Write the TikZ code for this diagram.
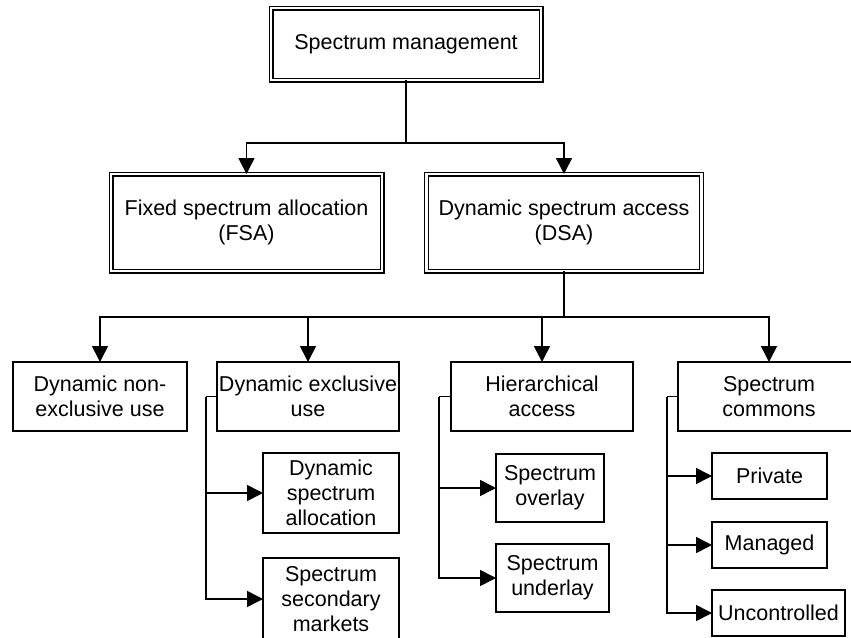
\documentclass[tikz,border=0pt]{standalone}
\usepackage{fontspec}
\setmainfont{Liberation Sans}
\usetikzlibrary{arrows.meta}
\begin{document}
\begin{tikzpicture}[x=1pt, y=-1pt, line width=1.6pt, line join=miter,
	font=\fontsize{21.5}{25}\selectfont, >={Triangle[length=16pt,width=16pt]},
	box/.style={draw, rectangle, align=center, inner sep=0pt, outer sep=0pt},
	dbox/.style={box, double, double distance=2.4pt, line width=1.3pt}]
	\useasboundingbox (0,0) rectangle (851,637);
	% upper levels
	\node[dbox, minimum width=270, minimum height=72] (sm) at (406,44) {Spectrum management};
	\node[dbox, minimum width=271, minimum height=97] (fsa) at (246.5,222.5) {Fixed spectrum allocation\\(FSA)};
	\node[dbox, minimum width=275, minimum height=97] (dsa) at (564,222.5) {Dynamic spectrum access\\(DSA)};
	% DSA models
	\node[box, minimum width=174, minimum height=69] (dnu) at (100,396.5) {Dynamic non-\\exclusive use};
	\node[box, minimum width=182, minimum height=69] (deu) at (308,396.5) {Dynamic exclusive\\use};
	\node[box, minimum width=182, minimum height=69] (ha) at (542,396.5) {Hierarchical\\access};
	\node[box, minimum width=182, minimum height=69] (sc) at (769,396.5) {Spectrum\\commons};
	% sub-models
	\node[box, minimum width=136, minimum height=80] (dspa) at (331,493) {Dynamic\\spectrum\\allocation};
	\node[box, minimum width=136, minimum height=82] (ssm) at (331,599) {Spectrum\\secondary\\markets};
	\node[box, minimum width=108, minimum height=68] (sov) at (550,488) {Spectrum\\overlay};
	\node[box, minimum width=113, minimum height=68] (sun) at (552.5,578) {Spectrum\\underlay};
	\node[box, minimum width=115, minimum height=46] (prv) at (769.5,476) {Private};
	\node[box, minimum width=115, minimum height=46] (mng) at (769.5,545) {Managed};
	\node[box, minimum width=133, minimum height=46] (unc) at (778.5,613) {Uncontrolled};
	% connectors
	\coordinate (j1) at (406,143);
	\coordinate (j2) at (564,317);
	\draw (sm.south) -- (j1);
	\draw[->] (j1) -| (fsa.north);
	\draw[->] (j1) -| (dsa.north);
	\draw (dsa.south) -- (j2);
	\foreach \n in {dnu,deu,ha,sc} \draw[->] (j2) -| (\n.north);
	\draw (deu.west) -- ++(-11,0) coordinate (k1);
	\foreach \n in {dspa,ssm} \draw[->] (k1) |- (\n.west);
	\draw (ha.west) -- ++(-12,0) coordinate (k2);
	\foreach \n in {sov,sun} \draw[->] (k2) |- (\n.west);
	\draw (sc.west) -- ++(-11,0) coordinate (k3);
	\foreach \n in {prv,mng,unc} \draw[->] (k3) |- (\n.west);
\end{tikzpicture}
\end{document}
